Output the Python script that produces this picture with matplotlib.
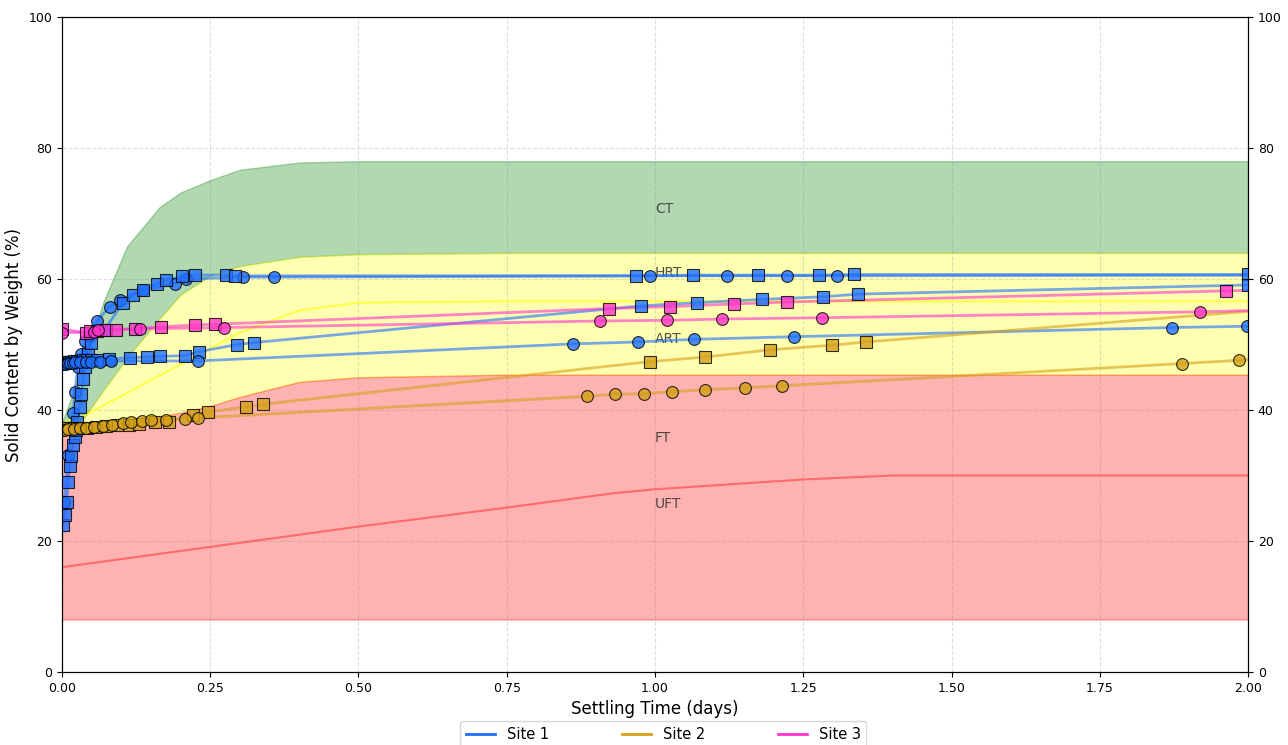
import numpy as np
import matplotlib.pyplot as plt
from matplotlib.lines import Line2D
from matplotlib.ticker import FormatStrFormatter

# zone boundaries (days vs % solids)
zone_t = [0, 0.035, 0.07, 0.11, 0.165, 0.2, 0.25, 0.3, 0.4, 0.5, 0.75, 1.0, 1.25, 1.45, 2.0]
ct_top = [38, 46.5, 56.5, 65, 71, 73.2, 75.1, 76.7, 77.8, 78, 78, 78, 78, 78, 78]
hrt_top = [38, 38.5, 43, 48, 54, 57.6, 60.5, 62, 63.4, 63.8, 64, 64, 64, 64, 64]
ft_top = [37.5, 37.6, 37.8, 38.2, 39.0, 39.6, 40.6, 42.0, 44.3, 45.0, 45.4, 45.4, 45.4, 45.4, 45.4]
ft_bottom = 8
art_mid = [38, 39, 40.7, 42.6, 45.3, 47.0, 49.4, 51.8, 55.2, 56.4, 56.6, 56.6, 56.6, 56.6, 56.6]

uft_t = [0, 0.25, 0.5, 0.75, 0.93, 1.0, 1.25, 1.4, 2.0]
uft_line = [16, 19.1, 22.2, 25.1, 27.3, 27.9, 29.4, 30, 30]

zone_names = ['CT', 'HRT', 'ART', 'FT', 'UFT']
zone_name_y = [70.7, 60.9, 50.8, 35.7, 25.6]

# Site 1
s1_circ1_t = [0.004, 0.011, 0.019, 0.022, 0.027, 0.033, 0.039, 0.046, 0.059, 0.081, 0.098, 0.137,
              0.19, 0.21, 0.306, 0.358, 0.992, 1.121, 1.223, 1.307, 2.1]
s1_circ1_v = [26.0, 33.2, 39.5, 42.8, 46.6, 48.5, 50.6, 51.5, 53.6, 55.8, 56.8, 58.4,
              59.3, 60.0, 60.3, 60.3, 60.5, 60.5, 60.5, 60.5, 60.6]
s1_sq1_t = [0.002, 0.005, 0.008, 0.011, 0.0135, 0.016, 0.019, 0.022, 0.024, 0.026, 0.030, 0.033,
            0.036, 0.039, 0.044, 0.05, 0.0725, 0.103, 0.12, 0.137, 0.16, 0.175, 0.202, 0.224,
            0.276, 0.292, 0.968, 1.064, 1.173, 1.277, 1.335, 2.0]
s1_sq1_v = [22.5, 24.0, 26.0, 29.0, 31.5, 33.0, 34.7, 35.9, 37.0, 38.2, 40.5, 42.5,
            44.8, 46.6, 48.6, 50.2, 52.3, 56.4, 57.6, 58.4, 59.3, 59.8, 60.4, 60.6,
            60.6, 60.5, 60.5, 60.6, 60.6, 60.6, 60.7, 60.7]
s1_sq2_t = [0.0, 0.004, 0.008, 0.012, 0.016, 0.02, 0.025, 0.03, 0.036, 0.042, 0.05, 0.06, 0.08,
            0.115, 0.143, 0.165, 0.207, 0.231, 0.295, 0.324, 0.976, 1.071, 1.181, 1.284, 1.342, 2.0]
s1_sq2_v = [47.3, 47.3, 47.4, 47.4, 47.4, 47.5, 47.5, 47.5, 47.6, 47.6, 47.7, 47.7, 47.8,
            48.0, 48.1, 48.2, 48.3, 48.9, 50.0, 50.3, 55.9, 56.4, 56.9, 57.3, 57.7, 59.1]
s1_circ2_t = [0.0, 0.003, 0.007, 0.01, 0.014, 0.018, 0.022, 0.03, 0.04, 0.05, 0.065, 0.083,
              0.229, 0.861, 0.972, 1.066, 1.234, 1.871, 1.998]
s1_circ2_v = [47.0, 47.1, 47.1, 47.2, 47.2, 47.2, 47.3, 47.3, 47.3, 47.4, 47.4, 47.5,
              47.5, 50.1, 50.4, 50.8, 51.2, 52.6, 52.8]

# Site 2
s2_sq_t = [0.0, 0.005, 0.01, 0.015, 0.02, 0.025, 0.03, 0.042, 0.058, 0.075, 0.095, 0.113, 0.13,
           0.157, 0.181, 0.222, 0.247, 0.31, 0.34, 0.992, 1.085, 1.194, 1.298, 1.356, 2.1]
s2_sq_v = [37.2, 37.2, 37.2, 37.3, 37.3, 37.3, 37.3, 37.3, 37.4, 37.6, 37.7, 37.7, 37.8,
           38.1, 38.2, 39.3, 39.7, 40.5, 40.9, 47.4, 48.1, 49.2, 49.9, 50.4, 55.8]
s2_circ_t = [0.0, 0.005, 0.01, 0.02, 0.03, 0.04, 0.055, 0.07, 0.085, 0.103, 0.117, 0.135, 0.151,
             0.175, 0.207, 0.23, 0.885, 0.933, 0.982, 1.028, 1.085, 1.151, 1.215, 1.889, 1.985, 2.1]
s2_circ_v = [37.0, 37.0, 37.1, 37.1, 37.2, 37.3, 37.4, 37.5, 37.7, 38.0, 38.2, 38.3, 38.5,
             38.5, 38.7, 38.8, 42.1, 42.4, 42.5, 42.8, 43.1, 43.4, 43.7, 47.1, 47.6, 48.2]

# Site 3
s3_sq_t = [0.0, 0.04, 0.047, 0.06, 0.075, 0.092, 0.123, 0.167, 0.224, 0.258, 0.922, 1.026,
           1.133, 1.223, 1.963, 2.1]
s3_sq_v = [52.4, 51.8, 52.0, 52.1, 52.2, 52.3, 52.4, 52.7, 53.0, 53.1, 55.5, 55.8,
           56.2, 56.5, 58.2, 58.5]
s3_circ_t = [0.0, 0.055, 0.061, 0.131, 0.274, 0.908, 1.020, 1.113, 1.282, 1.919, 2.1]
s3_circ_v = [51.8, 51.9, 52.2, 52.4, 52.6, 53.6, 53.7, 53.9, 54.1, 55.0, 55.4]

site_names = ['Site 1', 'Site 2', 'Site 3']
site_colors = ['#1f6fff', '#d4a017', '#ff33cc']

fig = plt.figure(figsize=(12.88, 7.45), dpi=100)
ax = fig.add_axes([0.048, 0.098, 0.921, 0.879])

# zones
ax.fill_between(zone_t, hrt_top, ct_top, color='green', alpha=0.3)
ax.fill_between(zone_t, ft_top, hrt_top, color='yellow', alpha=0.3)
ax.fill_between(zone_t, ft_bottom, ft_top, color='red', alpha=0.3)
ax.plot(zone_t, art_mid, color='yellow', alpha=0.6, lw=1.5)
ax.plot(uft_t, uft_line, color='red', alpha=0.4, lw=1.5)
for name, yv in zip(zone_names, zone_name_y):
    ax.text(1.0, yv, name, ha='left', va='center', fontsize=10, color='#333333', alpha=0.85)

series = [
    (s1_circ1_t, s1_circ1_v, 'o', 0),
    (s1_sq1_t, s1_sq1_v, 's', 0),
    (s1_sq2_t, s1_sq2_v, 's', 0),
    (s1_circ2_t, s1_circ2_v, 'o', 0),
    (s2_sq_t, s2_sq_v, 's', 1),
    (s2_circ_t, s2_circ_v, 'o', 1),
    (s3_sq_t, s3_sq_v, 's', 2),
    (s3_circ_t, s3_circ_v, 'o', 2),
]
for t, v, mk, si in series:
    c = site_colors[si]
    ax.plot(t, v, color=c, alpha=0.6, lw=2, zorder=3)
    ax.plot(t, v, ls='none', marker=mk, ms=8.5, mfc=c, mec='black', mew=0.8, alpha=0.8, zorder=4)

ax.set_xlim(0, 2.0)
ax.set_ylim(0, 100)
ax.set_xticks(np.arange(0, 2.01, 0.25))
ax.xaxis.set_major_formatter(FormatStrFormatter('%.2f'))
ax.set_yticks(range(0, 101, 20))
ax.tick_params(labelsize=9)
ax.grid(True, color='gray', alpha=0.25, lw=0.8, ls='--')
ax.set_xlabel('Settling Time (days)', fontsize=12)
ax.set_ylabel('Solid Content by Weight (%)', fontsize=12)

ax2 = ax.twinx()
ax2.set_ylim(0, 100)
ax2.set_yticks(range(0, 101, 20))
ax2.tick_params(labelsize=9)

handles = [Line2D([0], [0], color=c, lw=2) for c in site_colors]
ax.legend(handles, site_names, loc='upper center', bbox_to_anchor=(0.507, -0.064), ncol=3,
          fontsize=10.5, columnspacing=5.0, frameon=True)

plt.savefig('out.png', dpi=100)
